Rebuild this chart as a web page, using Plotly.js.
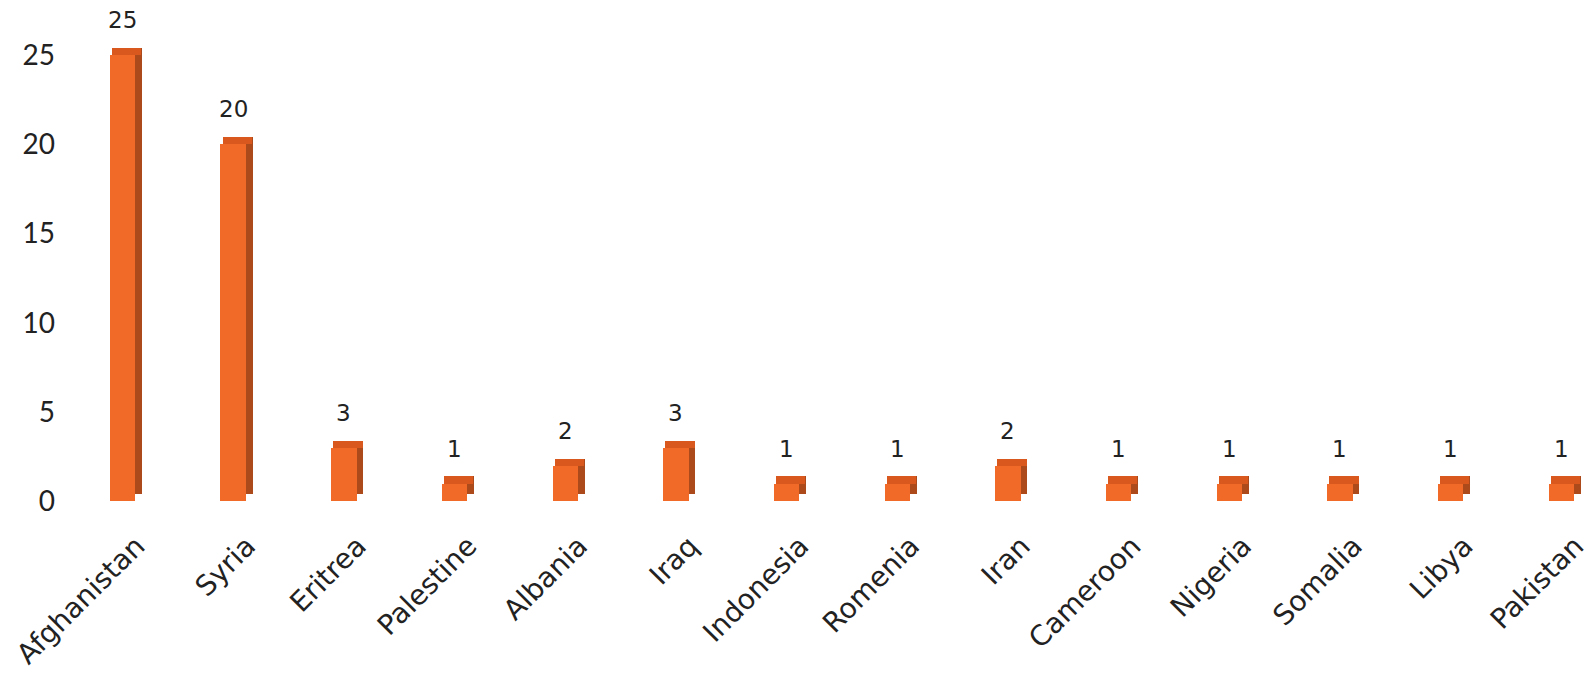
<!DOCTYPE html>
<html>
<head>
<meta charset="utf-8">
<script src="https://cdn.plot.ly/plotly-3.0.1.min.js"></script>
<style>
html,body{margin:0;padding:0;background:#fff;}
#chart{width:1589px;height:677px;}
</style>
</head>
<body>
<div id="chart"></div>
<script>
const countries = ["Afghanistan","Syria","Eritrea","Palestine","Albania","Iraq","Indonesia","Romenia","Iran","Cameroon","Nigeria","Somalia","Libya","Pakistan"];
const counts = [25,20,3,1,2,3,1,1,2,1,1,1,1,1];
const yTicks = [0,5,10,15,20,25];

// pseudo-3D depth (in y units) used for the side and top faces
const depth = 0.4;

const sideTrace = {
  type: "bar",
  x: countries,
  y: counts,
  base: depth,
  width: 0.065,
  offset: 0.11,
  marker: {color: "#ad4a1c"},
  hoverinfo: "skip",
  showlegend: false
};
const topTrace = {
  type: "bar",
  x: countries,
  y: counts.map(() => depth),
  base: counts,
  width: 0.265,
  offset: -0.095,
  marker: {color: "#d9581e"},
  hoverinfo: "skip",
  showlegend: false
};
const frontTrace = {
  type: "bar",
  x: countries,
  y: counts,
  width: 0.23,
  offset: -0.115,
  marker: {color: "#f16a27"},
  showlegend: false
};

const annotations = countries.map((c, i) => ({
  x: c, y: counts[i], text: String(counts[i]),
  xref: "x", yref: "y", showarrow: false,
  yanchor: "bottom", yshift: 20,
  font: {family: "DejaVu Sans", size: 23, color: "#222"}
}));

const layout = {
  width: 1589, height: 677,
  margin: {l: 60, r: 0, t: 19, b: 172},
  paper_bgcolor: "#fff", plot_bgcolor: "#fff",
  barmode: "overlay",
  bargap: 0,
  xaxis: {
    type: "category",
    range: [-0.565, 13.25],
    tickangle: -45,
    ticklabelshift: 14,
    ticklabelstandoff: 18,
    showgrid: false, zeroline: false, showline: false, ticks: "",
    tickfont: {family: "DejaVu Sans", size: 28, color: "#222"}
  },
  yaxis: {
    range: [-0.2, 27],
    tickvals: yTicks,
    ticktext: yTicks.map(String),
    ticklabelstandoff: 4,
    showgrid: false, zeroline: false, showline: false, ticks: "",
    tickfont: {family: "Lato", size: 28, color: "#222"}
  },
  annotations: annotations
};

Plotly.newPlot("chart", [sideTrace, topTrace, frontTrace], layout, {displayModeBar: false, staticPlot: true});
</script>
</body>
</html>
